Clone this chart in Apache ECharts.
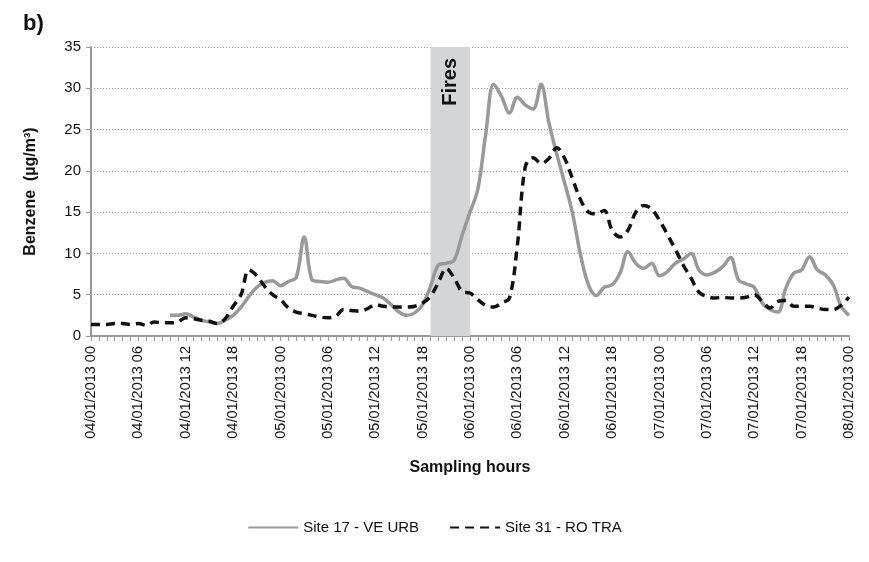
<!DOCTYPE html>
<html><head><meta charset="utf-8">
<script src="https://cdn.jsdelivr.net/npm/echarts@6/dist/echarts.min.js"></script>
<style>html,body{margin:0;padding:0;background:#fff}#c{width:869px;height:562px}</style>
</head><body><div id="c"></div>
<script>
const days = ['04/01/2013','05/01/2013','06/01/2013','07/01/2013'];
const hours = [];
for (const d of days) for (let h = 0; h < 24; h++) hours.push(d + ' ' + String(h).padStart(2,'0'));
hours.push('08/01/2013 00');

const site17 = [null,null,null,null,null,null,null,null,null,null,
 2.5,2.5,2.7,2.3,1.9,1.7,1.5,1.9,2.5,3.5,
 4.8,5.9,6.5,6.7,6.1,6.6,7.1,12.0,6.8,6.6,
 6.5,6.8,7.0,6.0,5.8,5.4,5.0,4.6,3.8,2.9,
 2.5,2.8,3.8,6.0,8.6,8.8,9.2,12.2,15.0,17.8,
 24.5,30.5,29.0,27.0,28.9,28.0,27.5,30.5,25.8,22.0,
 18.5,14.8,9.8,6.2,4.9,5.9,6.2,7.6,10.2,8.8,
 8.2,8.8,7.3,7.8,8.8,9.3,10.0,8.0,7.4,7.7,
 8.4,9.5,6.8,6.3,5.9,4.0,3.2,2.9,5.8,7.6,
 8.0,9.6,8.0,7.4,6.2,3.6,2.5];
const site31 = [1.4,1.4,1.4,1.5,1.5,1.4,1.5,1.3,1.7,1.6,
 1.6,1.7,2.2,2.1,1.9,1.8,1.5,2.1,3.6,5.0,
 8.0,7.3,6.0,5.0,4.4,3.4,2.9,2.7,2.5,2.3,
 2.2,2.4,3.2,3.1,3.0,3.3,3.8,3.6,3.5,3.5,
 3.5,3.6,4.0,4.8,6.5,8.2,7.0,5.4,5.2,4.4,
 3.7,3.5,4.0,4.6,11.0,20.5,21.6,20.9,21.5,22.8,
 21.5,19.0,16.5,15.0,14.8,15.2,12.8,12.0,12.8,15.0,
 15.8,15.4,14.0,12.3,10.5,8.6,7.0,5.3,4.8,4.6,
 4.7,4.6,4.6,4.7,5.0,4.2,3.4,4.2,4.3,3.6,
 3.6,3.6,3.4,3.2,3.2,3.7,4.7];
const seriesNames = ['Site 17 - VE URB','Site 31 - RO TRA'];
const firesRange = ['05/01/2013 19','06/01/2013 00'];

const F = 'Liberation Sans, Arial, sans-serif';
const chart = echarts.init(document.getElementById('c'));
chart.setOption({
  animation:false,
  textStyle:{fontFamily:F},
  title:{text:'b)',left:18,top:8,textStyle:{fontFamily:F,fontSize:22,fontWeight:'bold',color:'#111'}},
  grid:{left:91,right:20,top:47,bottom:226},
  legend:{bottom:22,left:'center',itemWidth:50,itemHeight:10,itemGap:30,
    itemStyle:{opacity:0},
    textStyle:{fontFamily:F,fontSize:15,color:'#111'},
    data:seriesNames},
  xAxis:{type:'category',data:hours,boundaryGap:false,
    name:'Sampling hours',nameLocation:'middle',nameGap:124,
    nameTextStyle:{fontFamily:F,fontSize:16,fontWeight:'bold',color:'#111'},
    axisLine:{lineStyle:{color:'#999',width:2}},
    axisTick:{interval:0,length:5,lineStyle:{color:'#999'}},
    axisLabel:{interval:5,rotate:90,fontSize:14.5,color:'#111',margin:10,fontFamily:F},
    splitLine:{show:false}},
  yAxis:{type:'value',min:0,max:35,interval:5,
    name:'Benzene  (µg/m³)',nameLocation:'middle',nameGap:52,
    nameTextStyle:{fontFamily:F,fontSize:16,fontWeight:'bold',color:'#111'},
    axisLine:{show:true,lineStyle:{color:'#999',width:2}},
    axisTick:{show:true,length:5,lineStyle:{color:'#999'}},
    axisLabel:{fontSize:15,color:'#111',margin:10,fontFamily:F},
    splitLine:{lineStyle:{color:'#999',type:[1,2],width:1}}},
  series:[
    {name:seriesNames[0],type:'line',data:site17,smooth:0.35,symbol:'none',connectNulls:false,
     lineStyle:{color:'#999',width:3.5},itemStyle:{color:'#999'},z:3,
     markArea:{silent:true,itemStyle:{color:'#d4d5d7'},
       label:{show:true,position:'insideTop',rotate:90,align:'right',verticalAlign:'middle',distance:11,formatter:'Fires',
         fontFamily:F,fontSize:20,fontWeight:'bold',color:'#111'},
       data:[[{xAxis:firesRange[0]},{xAxis:firesRange[1]}]]}},
    {name:seriesNames[1],type:'line',data:site31,smooth:0.35,symbol:'none',
     lineStyle:{color:'#111',width:3.5,type:[9,6]},itemStyle:{color:'#111'},z:4}
  ]
});
</script></body></html>
